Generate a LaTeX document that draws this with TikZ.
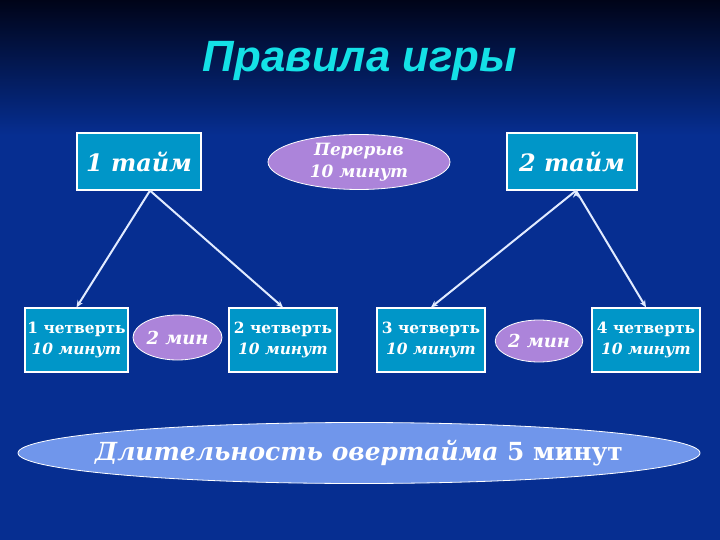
\documentclass[tikz,border=0pt]{standalone}
\usepackage{fontspec}
\setmainfont{DejaVu Serif}
\newfontfamily\titlefont{Liberation Sans}
\usetikzlibrary{shapes.geometric,arrows.meta}

\definecolor{bgtop}{RGB}{0,4,24}
\definecolor{bgblue}{RGB}{6,46,145}
\definecolor{boxfill}{RGB}{0,150,200}
\definecolor{ovalfill}{RGB}{172,132,218}
\definecolor{bigoval}{RGB}{112,150,235}
\definecolor{titlecyan}{RGB}{20,225,230}
\definecolor{linecol}{RGB}{225,235,255}

\begin{document}
\begin{tikzpicture}
	[x=1bp,y=-1bp,->,>={Stealth[length=7bp,width=6bp]},line width=2bp,
		half node/.style={rectangle,draw=white,line width=1.2bp,fill=boxfill,text=white,
			minimum width=124bp,minimum height=57bp,inner sep=0pt,
			font=\fontsize{24}{28}\selectfont\bfseries\itshape},
		quarter node/.style={rectangle,draw=white,line width=1.2bp,fill=boxfill,text=white,
			minimum width=106bp,minimum height=64bp,inner sep=0pt,align=center,
			font=\fontsize{15.5}{21}\selectfont\bfseries},
		break node/.style={ellipse,draw=white,line width=0.8bp,fill=ovalfill,text=white,
			inner sep=0pt,align=center,font=\fontsize{18}{22}\selectfont\bfseries\itshape}]

	% background
	\useasboundingbox (0,0) rectangle (720,540);
	\fill[bgblue] (0,0) rectangle (720,540);
	\shade[top color=bgtop,bottom color=bgblue] (0,0) rectangle (720,135);

	\node[anchor=base,text=titlecyan,font=\titlefont\fontsize{44}{50}\selectfont\bfseries\itshape]
		(title) at (360,72) {Правила игры};

	\node[half node]  (tayma1) at (139,161.5) {1 тайм};
	\node[half node,minimum width=130bp]  (tayma2) at (572,161.5) {2 тайм};
	\node[break node,minimum width=182bp,minimum height=55bp,font=\fontsize{17}{22}\selectfont\bfseries\itshape]
		(pereryv) at (359,162) {Перерыв\\10 минут};

	\node[quarter node,minimum width=103bp] (q1) at (76.5,340) {1 четверть\\\itshape 10 минут};
	\node[break node,minimum width=89bp,minimum height=45bp] (min1) at (177.5,337.5) {2 мин};
	\node[quarter node,minimum width=108bp] (q2) at (283,340) {2 четверть\\\itshape 10 минут};
	\node[quarter node,minimum width=108bp] (q3) at (431,340) {3 четверть\\\itshape 10 минут};
	\node[break node,minimum width=86bp,minimum height=42bp] (min2) at (539,341) {2 мин};
	\node[quarter node,minimum width=108bp] (q4) at (646,340) {4 четверть\\\itshape 10 минут};

	\node[ellipse,draw=white,line width=0.8bp,fill=bigoval,text=white,minimum width=682bp,minimum height=61bp,
		inner xsep=-40bp,inner ysep=0pt,font=\fontsize{25}{30}\selectfont\bfseries]
		(overtime) at (359,453) {{\itshape Длительность овертайма} 5 минут};

	\path[draw=linecol]
	([xshift=11bp]tayma1.south) edge (q1.north)
	([xshift=11bp]tayma1.south) edge (q2.north)
	([xshift=4bp]tayma2.south) edge (q3.north)
	([xshift=4bp]tayma2.south) edge (q4.north)
	;

\end{tikzpicture}
\end{document}
